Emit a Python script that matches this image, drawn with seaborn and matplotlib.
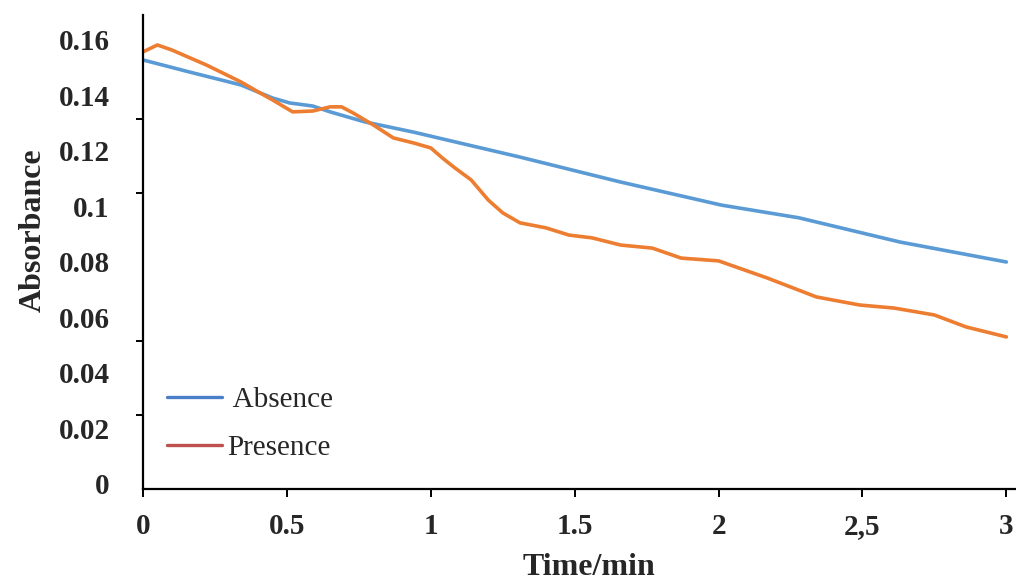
import numpy as np
import pandas as pd
import matplotlib
matplotlib.use("Agg")
import matplotlib.pyplot as plt
import matplotlib.transforms as mtransforms
from matplotlib.lines import Line2D
import seaborn as sns

# ---- data ----
absence_time = [0, 0.16, 0.34, 0.45, 0.51, 0.59, 0.65, 0.77, 0.94, 1.10, 1.31, 1.66,
                2.01, 2.28, 2.63, 3.0]
absence_abs = [0.1546, 0.1503, 0.1456, 0.1409, 0.1391, 0.1380, 0.1359, 0.1323, 0.1286,
               0.1247, 0.1196, 0.1106, 0.1023, 0.0977, 0.0890, 0.0818]

presence_time = [0, 0.05, 0.10, 0.22, 0.34, 0.40, 0.45, 0.52, 0.59, 0.65, 0.69, 0.73,
                 0.80, 0.87, 0.94, 1.00, 1.04, 1.08, 1.14, 1.20, 1.25, 1.31, 1.40, 1.48,
                 1.56, 1.66, 1.77, 1.87, 2.00, 2.17, 2.34, 2.49, 2.61, 2.75, 2.86, 3.0]
presence_abs = [0.1575, 0.1600, 0.1582, 0.1528, 0.1467, 0.1431, 0.1402, 0.1359, 0.1362,
                0.1377, 0.1377, 0.1355, 0.1312, 0.1265, 0.1247, 0.1229, 0.1193, 0.1160,
                0.1114, 0.1041, 0.0995, 0.0959, 0.0941, 0.0915, 0.0905, 0.0879, 0.0868,
                0.0832, 0.0822, 0.0760, 0.0692, 0.0663, 0.0652, 0.0627, 0.0584, 0.0548]

x_ticks = [0, 0.5, 1, 1.5, 2, 2.5, 3]
x_tick_labels = ["0", "0.5", "1", "1.5", "2", "2,5", "3"]
y_ticks = [0, 0.02, 0.04, 0.06, 0.08, 0.10, 0.12, 0.14, 0.16]
y_tick_labels = ["0", "0.02", "0.04", "0.06", "0.08", "0.1", "0.12", "0.14", "0.16"]
series_names = ["Absence", "Presence"]

# ---- style ----
sns.set_theme(style="white")
plt.rcParams["font.family"] = ["Liberation Serif", "DejaVu Serif"]

line_colors = {"Absence": "#5B9BD5", "Presence": "#ED7D31"}
legend_colors = {"Absence": "#4A7EC7", "Presence": "#C0504D"}

fig = plt.figure(figsize=(10.16, 5.83), dpi=100)
ax = fig.add_axes([143 / 1016, 94 / 583, 872 / 1016, 474 / 583])

df_abs = pd.DataFrame({"time": absence_time, "abs": absence_abs})
df_pre = pd.DataFrame({"time": presence_time, "abs": presence_abs})
sns.lineplot(data=df_abs, x="time", y="abs", ax=ax, color=line_colors["Absence"],
             linewidth=2.6, errorbar=None)
sns.lineplot(data=df_pre, x="time", y="abs", ax=ax, color=line_colors["Presence"],
             linewidth=2.6, errorbar=None)

ax.set_xlim(0, 3.03)
ax.set_ylim(0, 0.1708)

# spines
for side in ["top", "right"]:
    ax.spines[side].set_visible(False)
for side in ["left", "bottom"]:
    ax.spines[side].set_color("black")
    ax.spines[side].set_linewidth(1.6)

# x ticks
ax.set_xticks(x_ticks)
ax.set_xticklabels(x_tick_labels, fontsize=21, fontweight="bold")
ax.tick_params(axis="x", direction="out", length=6, width=1.4, color="black", pad=11,
               bottom=True)

# y ticks: labels at the value positions, marks at the original 6 equal intervals
ax.set_yticks(y_ticks)
ax.set_yticklabels(y_tick_labels, fontsize=21, fontweight="bold")
ax.tick_params(axis="y", which="major", length=0, pad=24, left=True)
ax.set_yticks([0.16 * k / 6 for k in range(7)], minor=True)
ax.tick_params(axis="y", which="minor", direction="out", length=5, width=1.4,
               color="black", left=True)
offset = mtransforms.ScaledTranslation(0, 5 / 100, fig.dpi_scale_trans)
for lbl in ax.get_yticklabels():
    lbl.set_transform(lbl.get_transform() + offset)

ax.set_xlabel("Time/min", fontsize=23, fontweight="bold")
ax.xaxis.set_label_coords(0.511, -0.135)
ax.set_ylabel("Absorbance", fontsize=23, fontweight="bold")
ax.yaxis.set_label_coords(-0.109, 0.546)

handles = [Line2D([], [], color=legend_colors[n], linewidth=2.4) for n in series_names]
leg = ax.legend(handles, [" Absence", "Presence"], loc="upper left",
                bbox_to_anchor=(0.0275, 0.216), frameon=False, fontsize=21,
                handlelength=1.9, handletextpad=0.17, labelspacing=0.75,
                borderpad=0, borderaxespad=0)

ax.grid(False)
fig.savefig("out.png", dpi=100)
